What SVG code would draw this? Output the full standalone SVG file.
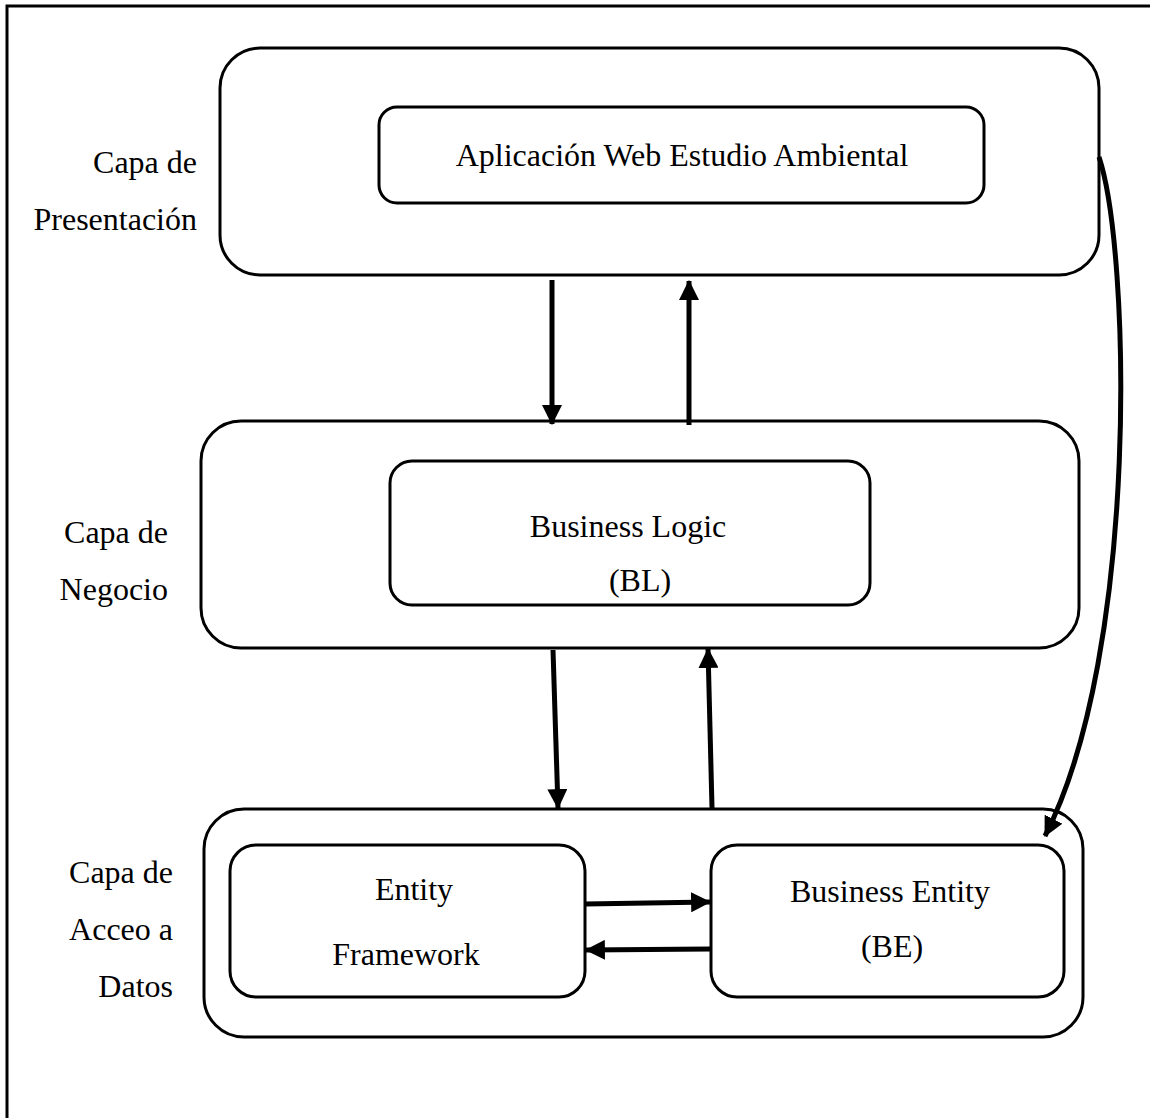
<svg xmlns="http://www.w3.org/2000/svg" width="1150" height="1118" viewBox="0 0 1150 1118">
  <style>
    .box { fill: #fff; stroke: #000; stroke-width: 3; }
    .lbl { font-family: "Liberation Serif", "Times New Roman", serif; font-size: 32px; fill: #000; }
    .side { text-anchor: end; }
    .mid { text-anchor: middle; }
    .conn { fill: none; stroke: #000; stroke-width: 5; marker-end: url(#head); }
  </style>
  <defs>
    <marker id="head" markerUnits="userSpaceOnUse" markerWidth="20" markerHeight="20" viewBox="0 0 18 18" refX="17" refY="9" orient="auto">
      <path d="M0,0 L18,9 L0,18 Z" fill="#000"/>
    </marker>
  </defs>

  <rect x="0" y="0" width="1150" height="1118" fill="#fff"/>
  <!-- page frame -->
  <path d="M7,1118 V6 H1150" fill="none" stroke="#000" stroke-width="3"/>

  <!-- side labels -->
  <g id="label-presentacion" class="lbl side">
    <text x="197" y="173">Capa de</text>
    <text x="197" y="230">Presentación</text>
  </g>
  <g id="label-negocio" class="lbl side">
    <text x="168" y="543">Capa de</text>
    <text x="168" y="600">Negocio</text>
  </g>
  <g id="label-datos" class="lbl side">
    <text x="173" y="883">Capa de</text>
    <text x="173" y="940">Acceo a</text>
    <text x="173" y="997">Datos</text>
  </g>

  <!-- presentation layer -->
  <g id="capa-presentacion">
    <rect class="box" x="220" y="48" width="879" height="227" rx="40"/>
  </g>
  <g id="app-web">
    <rect class="box" x="379" y="107" width="605" height="96" rx="18"/>
    <text class="lbl mid" x="682" y="166">Aplicación Web Estudio Ambiental</text>
  </g>

  <!-- business layer -->
  <g id="capa-negocio">
    <rect class="box" x="201" y="421" width="878" height="227" rx="40"/>
  </g>
  <g id="business-logic">
    <rect class="box" x="390" y="461" width="480" height="144" rx="22"/>
    <text class="lbl mid" x="628" y="537">Business Logic</text>
    <text class="lbl mid" x="640" y="591">(BL)</text>
  </g>

  <!-- data access layer -->
  <g id="capa-datos">
    <rect class="box" x="204" y="809" width="879" height="228" rx="40"/>
  </g>
  <g id="entity-framework">
    <rect class="box" x="230" y="845" width="355" height="152" rx="26"/>
    <text class="lbl mid" x="414" y="900">Entity</text>
    <text class="lbl mid" x="406" y="965">Framework</text>
  </g>
  <g id="business-entity">
    <rect class="box" x="711" y="845" width="353" height="152" rx="26"/>
    <text class="lbl mid" x="890" y="902">Business Entity</text>
    <text class="lbl mid" x="892" y="957">(BE)</text>
  </g>

  <!-- connectors -->
  <g id="connectors">
    <path class="conn" d="M552,280 L552,424"/>
    <path class="conn" d="M689,425 L689,281"/>
    <path class="conn" d="M553,650 L558,808"/>
    <path class="conn" d="M712,808 L708,649"/>
    <path class="conn" d="M585,904 L710,902"/>
    <path class="conn" d="M710,949 L586,950"/>
    <path class="conn" d="M1099,157 C1130,250 1140,650 1045,836"/>
  </g>
</svg>
